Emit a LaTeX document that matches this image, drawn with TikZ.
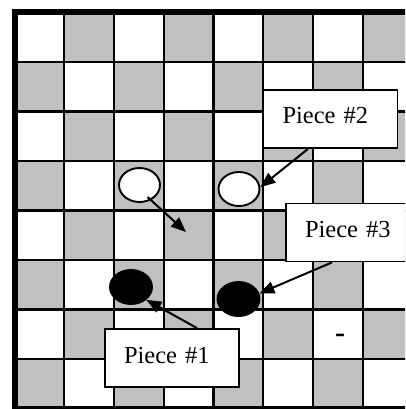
\documentclass[tikz,border=0pt]{standalone}
\usepackage{fontspec}
\setmainfont{Liberation Serif}
\usetikzlibrary{arrows.meta,calc,shapes.geometric}
\definecolor{boardgray}{RGB}{192,192,192}

\begin{document}
\begin{tikzpicture}[x=1pt,y=-1pt,>={Triangle[length=15pt,width=12pt]},
  piece/.style={draw,ellipse,line width=1.9pt,inner sep=0pt,minimum width=41pt,minimum height=34pt},
  callout/.style={draw,fill=white,line width=1.8pt,font=\fontsize{24.5pt}{29pt}\selectfont,
    inner xsep=19pt,text width=96pt,align=left,minimum height=58pt,text height=16pt,text depth=6pt},
  pointer/.style={->,line width=2pt}]
\useasboundingbox (0,0) rectangle (405,409);
\clip (0,0) rectangle (405,409);

\begin{scope}[shift={(14.5,12.5)},x=49.75pt,y=-49.5pt]
\foreach \r in {0,...,7}
  \foreach \c in {0,...,7} {
    \pgfmathtruncatemacro{\odd}{mod(\r+\c,2)}
    \ifnum\odd=1 \fill[boardgray] (\c,\r) rectangle ++(1,1); \fi
  }
\foreach \k in {1,...,7} {
  \draw[line width=2.2pt] (\k,0) -- (\k,8);
  \draw[line width=2.2pt] (0,\k) -- (8,\k);
}
\draw[line width=6pt] (0,0) rectangle (8,8);
\end{scope}

\node[piece,fill=white] (whiteA) at (139.5,185) {};
\node[piece,fill=white] (whiteB) at (239,189) {};
\node[piece,fill=black,minimum width=42pt] (blackA) at (131,287) {};
\node[piece,fill=black,minimum width=42pt] (blackB) at (238.5,299) {};

\node[callout] (pieceTwo) at (330.5,119) {Piece \#2};
\node[callout] (pieceThree) at (353,232.5) {Piece \#3};
\node[callout] (pieceOne) at (172,358) {Piece \#1};
\node[font=\fontsize{30pt}{34pt}\selectfont\bfseries,anchor=base] (minus) at (340,342) {-};

\coordinate (landing) at (186,232);
\draw[pointer] ([shift={(8,12)}]whiteA.center) -- (landing);
\draw[pointer] ([xshift=-22.5pt]pieceTwo.south) -- (whiteB.5);
\draw[pointer] ([xshift=-21pt]pieceThree.south) -- (blackB.15);
\draw[pointer] ([xshift=25pt]pieceOne.north) -- (blackA.-40);
\end{tikzpicture}
\end{document}
